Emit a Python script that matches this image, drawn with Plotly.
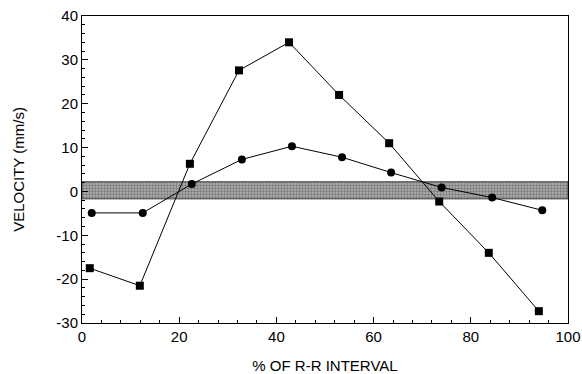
import plotly.graph_objects as go

# Data
x_square = [1.6, 11.9, 22.2, 32.3, 42.6, 52.9, 63.2, 73.5, 83.7, 94.0]
y_square = [-17.5, -21.5, 6.3, 27.6, 34.0, 22.0, 11.0, -2.3, -14.0, -27.3]
x_circle = [2.0, 12.5, 22.6, 32.9, 43.2, 53.5, 63.6, 74.0, 84.4, 94.7]
y_circle = [-4.9, -4.9, 1.7, 7.3, 10.3, 7.8, 4.3, 0.9, -1.4, -4.3]
band_x = [0, 100, 100, 0, 0]
band_y = [-1.7, -1.7, 2.2, 2.2, -1.7]
x_ticks = [0, 20, 40, 60, 80, 100]
x_tick_labels = ["0", "20", "40", "60", "80", "100"]
y_ticks = [-30, -20, -10, 0, 10, 20, 30, 40]
y_tick_labels = ["-30", "-20", "-10", "0", "10", "20", "30", "40"]

FONT = "Liberation Sans, Arial, sans-serif"

fig = go.Figure()
fig.add_trace(go.Scatter(
    x=band_x, y=band_y, mode="lines", fill="toself",
    fillcolor="#a0a0a0",
    fillpattern=dict(shape=".", fgcolor="#404040", bgcolor="#b4b4b4", size=3, solidity=0.5),
    line=dict(color="#444444", width=1), hoverinfo="skip", showlegend=False))
fig.add_trace(go.Scatter(
    x=x_square, y=y_square, mode="lines+markers",
    line=dict(color="black", width=1),
    marker=dict(symbol="square", size=8, color="black"), showlegend=False))
fig.add_trace(go.Scatter(
    x=x_circle, y=y_circle, mode="lines+markers",
    line=dict(color="black", width=1),
    marker=dict(symbol="circle", size=8, color="black"), showlegend=False))

axis_common = dict(showgrid=False, zeroline=False, showline=True, linecolor="black",
                   linewidth=1, mirror=True, ticks="inside", ticklen=6, tickcolor="black",
                   tickfont=dict(family=FONT, size=15, color="black"))

fig.update_xaxes(range=[0, 100], tickvals=x_ticks, ticktext=x_tick_labels,
                 minor=dict(dtick=4, ticks="inside", ticklen=3, tickcolor="black"),
                 title=dict(text="% OF R-R INTERVAL", standoff=17,
                            font=dict(family=FONT, size=15, color="black")),
                 **axis_common)
fig.update_yaxes(range=[-30, 40], tickvals=y_ticks, ticktext=y_tick_labels,
                 minor=dict(dtick=2, ticks="inside", ticklen=3, tickcolor="black"),
                 title=dict(text="VELOCITY (mm/s)", standoff=28,
                            font=dict(family=FONT, size=15, color="black")),
                 **axis_common)

fig.update_layout(width=582, height=374, margin=dict(l=82, r=14, t=16, b=51, autoexpand=False),
                  plot_bgcolor="white", paper_bgcolor="white")
fig.write_html("out.html", config={"displayModeBar": False},
               post_script="document.body.style.margin='0';")
